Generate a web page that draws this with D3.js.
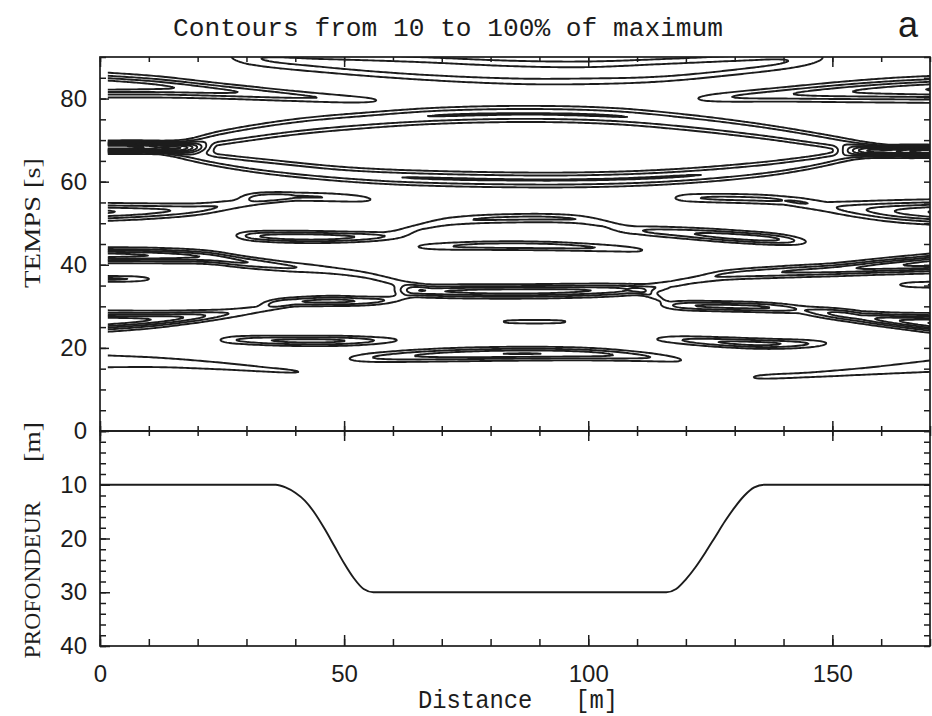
<!DOCTYPE html>
<html><head><meta charset="utf-8">
<script src="https://cdn.jsdelivr.net/npm/d3@7"></script>
<style>body{margin:0;background:#fff}svg{display:block}</style>
</head><body>
<svg id="c" width="932" height="716"></svg>
<script>
// ---------------- DATA ----------------
const distanceMajorTicks = [0, 50, 100, 150];
const distanceMinorTicks = [0,10,20,30,40,50,60,70,80,90,100,110,120,130,140,150,160,170];
const timeMajorTicks = [0, 20, 40, 60, 80];
const timeMinorTicks = [0,5,10,15,20,25,30,35,40,45,50,55,60,65,70,75,80,85,90];
const depthMajorTicks = [10, 20, 30, 40];
const depthMinorTicks = [0,2,4,6,8,10,12,14,16,18,20,22,24,26,28,30,32,34,36,38,40];
const contourLevels = [0.1,0.2,0.3,0.4,0.5,0.6,0.7,0.8,0.9,1.0];

// depth profile [distance m, depth m]
const depthProfile = [[0,10],[36,10],[38,10.5],[40,11.5],[42,13],[44,15.3],[46,18.2],[48,21.4],[50,24.6],[52,27.4],[54,29.4],[56,30],
  [116,30],[118,29.4],[120,27.6],[122,25.3],[124,22.6],[126,19.7],[128,16.8],[130,14.2],[132,12],[134,10.5],[136,10],[170,10]];

// energy ridges: [distance m, time s, half-width s, relative amplitude]
const wedgeTopLeft   = [[0,83.3,1.7,0.5],[12,82.8,1.5,0.42],[25,81.8,1.2,0.32],[40,80.6,0.95,0.22],[50,79.9,0.8,0.17],[56,79.6,0.7,0.11],[60,79.4,0.6,0]];
const arcTop         = [[23,90.6,1.2,0],[31,89.8,1.5,0.18],[45,88.6,1.7,0.23],[65,87.3,1.9,0.27],[85,86.3,2.0,0.26],[100,86.2,2.0,0.25],[115,86.8,1.9,0.27],[130,88,1.7,0.24],[143,89.3,1.5,0.18],[153,90.5,1.2,0]];
const wedgeTopRight  = [[118,79.8,0.7,0],[126,80.2,0.9,0.16],[140,81,1.2,0.28],[152,81.6,1.5,0.38],[162,82,1.7,0.45],[170,82.2,1.8,0.5]];
const lensUpper      = [[12,67.8,0.9,0],[17,68.6,1.0,0.2],[25,70.6,1.2,0.26],[40,73.2,1.3,0.28],[55,74.8,1.3,0.28],[70,75.9,1.3,0.3],[88,76.3,1.3,0.3],[105,75.8,1.3,0.3],[120,74.3,1.3,0.28],[135,72.2,1.2,0.28],[148,69.9,1.1,0.26],[157,68.2,1.0,0.2],[162,67.5,0.9,0]];
const lensLower      = [[12,67.5,0.9,0],[18,66.4,1.0,0.2],[25,65,1.1,0.25],[35,63.5,1.2,0.28],[50,61.8,1.2,0.28],[65,60.9,1.2,0.3],[88,60.4,1.2,0.3],[105,60.6,1.2,0.3],[120,61.4,1.2,0.3],[135,62.9,1.2,0.28],[145,64.5,1.1,0.26],[153,66.2,1.0,0.2],[160,67.3,0.9,0]];
const lensLeftCore   = [[0,68.3,0.75,1.0],[8,68.3,0.78,0.92],[14,68.2,0.82,0.7],[19,68.1,0.85,0.4],[24,68,0.9,0]];
const lensRightCore  = [[150,67.5,0.9,0],[156,67.4,0.85,0.4],[161,67.3,0.8,0.7],[166,67.3,0.78,0.9],[170,67.3,0.75,1.0]];
const bandLeft53     = [[0,52.7,1.3,0.42],[10,52.9,1.2,0.34],[20,53.4,1.05,0.24],[28,54.6,0.95,0.16],[34,55.6,0.9,0.12],[40,56.3,0.9,0]];
const blob56Left     = [[27,56.2,0.7,0],[33,56.4,0.8,0.18],[45,56.3,0.8,0.2],[53,55.9,0.75,0.15],[59,55.4,0.6,0]];
const blob56Right    = [[115,56,0.7,0],[121,56.1,0.8,0.18],[135,55.8,0.85,0.22],[143,55.2,0.85,0.16],[149,54.5,0.8,0]];
const bandRight53    = [[140,54.8,0.9,0],[148,54,1.1,0.15],[156,53.3,1.4,0.28],[163,52.9,1.6,0.4],[170,52.7,1.7,0.5]];
const blob47         = [[26,47.1,0.7,0],[32,46.9,0.85,0.28],[42,46.7,0.9,0.38],[52,46.7,0.85,0.3],[60,47,0.8,0.16],[66,47.8,0.8,0]];
const band51         = [[58,47.5,0.8,0],[64,48.8,0.8,0.12],[72,50.5,0.8,0.18],[85,51.2,0.8,0.22],[97,51,0.8,0.2],[104,49.8,0.8,0.14],[110,48.3,0.8,0]];
const blob44         = [[61,44.3,0.6,0],[68,44.4,0.7,0.15],[80,44.6,0.75,0.25],[92,44.5,0.75,0.25],[104,44,0.7,0.18],[110,43.6,0.65,0.12],[115,43.2,0.6,0]];
const blob46         = [[103,48.8,0.7,0],[110,48.3,0.85,0.18],[120,47.6,0.95,0.28],[130,46.8,0.95,0.36],[139,46.1,0.9,0.3],[147,45.3,0.7,0]];
const bandLeft42     = [[0,42.3,1.06,0.55],[12,42.2,1.05,0.48],[22,41.8,1.0,0.38],[30,40.6,0.95,0.3],[38,39.6,0.9,0.22],[46,38.8,0.9,0.15],[54,37.6,0.9,0.13],[60,36,0.9,0.13],[65,34.6,0.9,0.1],[68,34,0.9,0]];
const blob37Left     = [[0,36.6,0.55,0.22],[7,36.6,0.55,0.18],[13,36.6,0.5,0]];
const bandLeft26     = [[0,26.4,1.4,0.6],[10,26.8,1.2,0.5],[18,27.4,1.0,0.38],[25,28.1,0.9,0.22],[31,29,0.85,0.15],[36,30,0.8,0.13],[40,30.6,0.7,0]];
const blob31         = [[32,30.6,0.6,0],[38,31,0.75,0.24],[47,31.3,0.8,0.33],[55,31.3,0.75,0.26],[61,31.8,0.7,0.13],[65,33,0.7,0]];
const band34         = [[59,33.8,0.8,0],[64,33.7,0.95,0.3],[75,33.6,1.0,0.42],[88,33.6,1.0,0.45],[100,33.8,1.0,0.4],[108,34,0.95,0.3],[113,34.2,0.85,0.15],[117,34.6,0.8,0]];
const neckRight      = [[108,34.2,0.7,0],[111,33.5,0.7,0.13],[114,32.2,0.7,0.13],[117,31.2,0.7,0]];
const bandRight40    = [[110,34.5,0.8,0],[116,35.2,0.85,0.13],[122,36.4,0.85,0.15],[128,37.5,0.9,0.22],[140,38.3,0.95,0.3],[150,38.8,1.0,0.35],[160,39.6,1.15,0.45],[170,40.3,1.3,0.55]];
const blob35Right    = [[161,35.2,0.5,0],[166,35.2,0.55,0.16],[170,35.2,0.6,0.2]];
const blob30         = [[113,30.4,0.7,0],[119,30.2,0.8,0.25],[128,30,0.8,0.33],[137,29.7,0.8,0.3],[145,29.1,0.8,0.16],[152,28.4,0.8,0.12],[156,28,0.8,0]];
const bandRight26    = [[143,28.6,0.8,0],[150,28,0.9,0.2],[158,27.1,1.0,0.38],[164,26.5,1.1,0.5],[170,26,1.27,0.6]];
const blob22         = [[22,21.9,0.6,0],[28,21.9,0.75,0.2],[40,21.7,0.8,0.33],[50,21.7,0.8,0.3],[58,21.8,0.7,0.16],[65,22,0.6,0]];
const line16Left     = [[0,16.8,1.6,0.15],[12,16.5,1.3,0.145],[24,15.7,1.0,0.14],[34,14.8,0.7,0.13],[40,14.3,0.5,0.11],[44,14,0.4,0]];
const blob18         = [[47,17.2,0.7,0],[56,17.7,0.9,0.2],[70,18.3,1.0,0.34],[86,18.6,1.0,0.4],[100,18.5,0.95,0.35],[111,17.9,0.85,0.22],[118,17.2,0.75,0.12],[123,16.5,0.7,0]];
const dash26         = [[80,26.3,0.4,0],[84,26.3,0.45,0.13],[94,26.3,0.45,0.13],[98,26.3,0.4,0]];
const blob21         = [[110,22.2,0.6,0],[117,22,0.75,0.16],[127,21.4,0.8,0.3],[136,21,0.8,0.33],[145,21,0.75,0.2],[152,21.2,0.6,0]];
const line15Right    = [[131,12.8,0.5,0],[135,13,0.6,0.12],[145,13.5,0.75,0.13],[157,14.4,1.0,0.14],[170,15.6,1.5,0.15]];

const ridges = [wedgeTopLeft, arcTop, wedgeTopRight, lensUpper, lensLower, lensLeftCore, lensRightCore,
  bandLeft53, blob56Left, blob56Right, bandRight53, blob47, band51, blob44, blob46, bandLeft42, blob37Left,
  bandLeft26, blob31, band34, neckRight, bandRight40, blob35Right, blob30, bandRight26, blob22, line16Left, blob18,
  dash26, blob21, line15Right];

// ---------------- LAYOUT ----------------
const svg = d3.select("#c");
const x  = d3.scaleLinear().domain([0,170]).range([100,930]);
const yT = d3.scaleLinear().domain([0,90]).range([431,57]);
const yD = d3.scaleLinear().domain([0,40]).range([431,646]);
const ink = "#1c1c1c";

// ---------------- FIELD + CONTOURS ----------------
const gx0 = -2, gdx = 0.5, nx = 349;
const gt0 = -2, gdt = 0.2, nt = 471;
function interp(r, xv) {
  const n = r.length;
  if (xv <= r[0][0]) return r[0][0] <= 0 ? r[0].slice(1) : null;
  if (xv >= r[n-1][0]) return r[n-1][0] >= 170 ? r[n-1].slice(1) : null;
  let k = 0; while (r[k+1][0] < xv) k++;
  const x0 = r[k][0], x1 = r[k+1][0], h = x1 - x0, s = (xv - x0) / h;
  const s2 = s*s, s3 = s2*s, out = [];
  for (let c = 1; c <= 3; c++) {
    const y0 = r[k][c], y1 = r[k+1][c];
    const m0 = k > 0 ? (y1 - r[k-1][c]) / (x1 - r[k-1][0]) : (y1 - y0) / h;
    const m1 = k + 2 < n ? (r[k+2][c] - y0) / (r[k+2][0] - x0) : (y1 - y0) / h;
    out.push((2*s3-3*s2+1)*y0 + (s3-2*s2+s)*h*m0 + (-2*s3+3*s2)*y1 + (s3-s2)*h*m1);
  }
  out[1] = Math.max(0.2, out[1]); out[2] = Math.max(0, out[2]);
  return out;
}
const values = new Float64Array(nx*nt);
for (let i = 0; i < nx; i++) {
  const xv = gx0 + i*gdx;
  const ps = ridges.map(r => interp(r, xv)).filter(p => p && p[2] > 0);
  for (let j = 0; j < nt; j++) {
    const tv = gt0 + j*gdt;
    let v = 0;
    for (const p of ps) { const d = (tv - p[0]) / p[1]; v += p[2]*Math.exp(-0.5*d*d); }
    values[i + j*nx] = v;
  }
}
const vmax = d3.max(values);
const contours = d3.contours().size([nx, nt]).thresholds(contourLevels.map(l => l*vmax*0.999))(values);
const proj = d3.geoTransform({point: function(px, py) {
  this.stream.point(x(gx0 + (px-0.5)*gdx), yT(gt0 + (py-0.5)*gdt));
}});
const gpath = d3.geoPath(proj);

svg.append("clipPath").attr("id","clipTop").append("rect")
  .attr("x", x(1.6)).attr("y", yT(90)).attr("width", x(170)-x(1.6)).attr("height", yT(0)-yT(90));
svg.append("g").attr("clip-path","url(#clipTop)")
  .selectAll("path").data(contours).join("path")
  .attr("d", gpath).attr("fill","none").attr("stroke", ink)
  .attr("stroke-width", 1.9).attr("stroke-linejoin","round");

// ---------------- DEPTH PROFILE ----------------
svg.append("path").datum(depthProfile)
  .attr("d", d3.line().x(d => x(d[0])).y(d => yD(d[1])).curve(d3.curveMonotoneX))
  .attr("fill","none").attr("stroke", ink).attr("stroke-width", 1.9);

// ---------------- FRAMES ----------------
svg.append("rect").attr("x",x(0)).attr("y",yT(90)).attr("width",x(170)-x(0)).attr("height",yT(0)-yT(90))
  .attr("fill","none").attr("stroke",ink).attr("stroke-width",1.7);
svg.append("rect").attr("x",x(0)).attr("y",yD(0)).attr("width",x(170)-x(0)).attr("height",yD(40)-yD(0))
  .attr("fill","none").attr("stroke",ink).attr("stroke-width",1.7);

// ---------------- AXES ----------------
function tickAxis(axis, tx, ty) {
  const g = svg.append("g").attr("transform", `translate(${tx},${ty})`).call(axis);
  g.select(".domain").remove();
  g.selectAll("line").attr("stroke", ink).attr("stroke-width", 1.5);
  return g;
}
const noLab = () => "";
// top edge of top panel
tickAxis(d3.axisBottom(x).tickValues(distanceMinorTicks).tickSize(5).tickFormat(noLab), 0, yT(90));
tickAxis(d3.axisBottom(x).tickValues(distanceMajorTicks).tickSize(10).tickFormat(noLab), 0, yT(90));
// middle shared edge (crossing ticks)
tickAxis(d3.axisBottom(x).tickValues(distanceMinorTicks).tickSize(5).tickFormat(noLab), 0, yT(0));
tickAxis(d3.axisTop(x).tickValues(distanceMinorTicks).tickSize(5).tickFormat(noLab), 0, yT(0));
tickAxis(d3.axisBottom(x).tickValues(distanceMajorTicks).tickSize(10).tickFormat(noLab), 0, yT(0));
tickAxis(d3.axisTop(x).tickValues(distanceMajorTicks).tickSize(10).tickFormat(noLab), 0, yT(0));
// bottom edge
tickAxis(d3.axisTop(x).tickValues(distanceMinorTicks).tickSize(7).tickFormat(noLab), 0, yD(40));
tickAxis(d3.axisTop(x).tickValues(distanceMajorTicks).tickSize(11).tickFormat(noLab), 0, yD(40));
// top panel sides
tickAxis(d3.axisRight(yT).tickValues(timeMinorTicks).tickSize(6).tickFormat(noLab), x(0), 0);
tickAxis(d3.axisRight(yT).tickValues(timeMajorTicks).tickSize(9).tickFormat(noLab), x(0), 0);
tickAxis(d3.axisLeft(yT).tickValues(timeMinorTicks).tickSize(6).tickFormat(noLab), x(170), 0);
// bottom panel sides
tickAxis(d3.axisRight(yD).tickValues(depthMinorTicks).tickSize(6).tickFormat(noLab), x(0), 0);
tickAxis(d3.axisRight(yD).tickValues(depthMajorTicks).tickSize(10).tickFormat(noLab), x(0), 0);
tickAxis(d3.axisLeft(yD).tickValues(depthMinorTicks).tickSize(6).tickFormat(noLab), x(170), 0);

// tick labels
const labFont = "'Liberation Sans', Arial, sans-serif";
function labelAxis(axis, tx, ty) {
  const g = svg.append("g").attr("transform", `translate(${tx},${ty})`).call(axis);
  g.select(".domain").remove(); g.selectAll("line").remove();
  g.selectAll("text").attr("font-family", labFont).attr("font-size", 24).attr("fill", ink);
  return g;
}
labelAxis(d3.axisLeft(yT).tickValues(timeMajorTicks).tickSize(0).tickPadding(13), x(0), 0);
labelAxis(d3.axisLeft(yD).tickValues(depthMajorTicks).tickSize(0).tickPadding(13), x(0), 0);
labelAxis(d3.axisBottom(x).tickValues(distanceMajorTicks).tickSize(0).tickPadding(19), 0, yD(40));

// ---------------- TEXTS ----------------
const mono = "'Liberation Mono', 'DejaVu Sans Mono', monospace";
svg.append("text").attr("x", 448).attr("y", 36).attr("text-anchor","middle")
  .attr("font-family", mono).attr("font-size", 25)
  .attr("textLength", 550).attr("lengthAdjust","spacingAndGlyphs").attr("fill", ink)
  .text("Contours from 10 to 100% of maximum");
svg.append("text").attr("x", 908).attr("y", 37).attr("text-anchor","middle")
  .attr("font-family", labFont).attr("font-size", 36).attr("fill", ink).text("a");
svg.append("text").attr("x", 418).attr("y", 708).style("white-space","pre")
  .attr("font-family", mono).attr("font-size", 26)
  .attr("textLength", 200).attr("lengthAdjust","spacingAndGlyphs").attr("fill", ink)
  .text("Distance   [m]");
const serif = "'Liberation Serif', 'DejaVu Serif', serif";
function vlabel(txt, cy, len) {
  svg.append("text").attr("transform", `translate(40,${cy}) rotate(-90)`).attr("text-anchor","middle")
    .attr("font-family", serif).attr("font-size", 24).attr("fill", ink)
    .attr("textLength", len).attr("lengthAdjust","spacingAndGlyphs").text(txt);
}
vlabel("TEMPS", 242, 92);
vlabel("[s]", 173, 30);
vlabel("PROFONDEUR", 580, 157);
vlabel("[m]", 442, 40);
</script>
</body></html>
